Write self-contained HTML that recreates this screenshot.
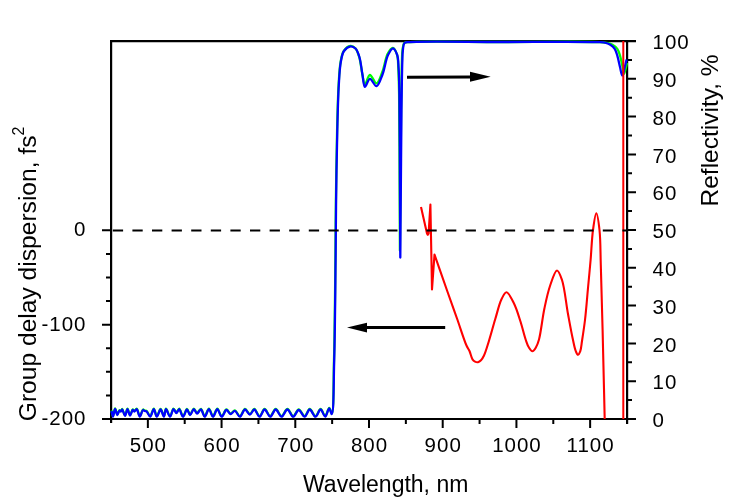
<!DOCTYPE html>
<html><head><meta charset="utf-8"><style>
html,body{margin:0;padding:0;background:#fff;width:730px;height:500px;overflow:hidden}
svg{display:block;will-change:transform}
text{font-family:"Liberation Sans",sans-serif;fill:#000}
</style></head><body>
<svg width="730" height="500" viewBox="0 0 730 500">
<rect width="730" height="500" fill="#fff"/>
<path d="M111.1,40 V423 M110,41.1 H636 M627.1,40 V424 M102,419 H636" stroke="#000" stroke-width="2.2" fill="none"/>
<path d="M147.86,419 V428 M221.57,419 V428 M295.29,419 V428 M369.00,419 V428 M442.71,419 V428 M516.43,419 V428 M590.14,419 V428 M184.71,419 V424 M258.43,419 V424 M332.14,419 V424 M405.86,419 V424 M479.57,419 V424 M553.29,419 V424 M102,230.30 H111 M102,324.65 H111 M102,419.00 H111 M106,253.89 H111 M106,277.48 H111 M106,301.06 H111 M106,348.24 H111 M106,371.83 H111 M106,395.41 H111 M627,419.00 H636 M627,400.10 H632 M627,381.20 H636 M627,362.30 H632 M627,343.40 H636 M627,324.50 H632 M627,305.60 H636 M627,286.70 H632 M627,267.80 H636 M627,248.90 H632 M627,230.00 H636 M627,211.10 H632 M627,192.20 H636 M627,173.30 H632 M627,154.40 H636 M627,135.50 H632 M627,116.60 H636 M627,97.70 H632 M627,78.80 H636 M627,59.90 H632 M627,41.00 H636" stroke="#000" stroke-width="2" fill="none"/>
<path d="M111.50,410.50 C112.00,412.33 112.45,416.00 113.00,416.00 C113.64,416.00 114.34,408.53 115.10,408.50 C115.79,408.47 116.51,414.46 117.30,414.50 C117.99,414.54 118.70,410.33 119.50,410.10 C119.98,409.96 120.57,411.11 121.00,411.00 C121.50,410.88 121.75,408.97 122.20,409.00 C122.98,409.05 124.12,415.32 125.00,415.30 C125.89,415.28 126.66,408.71 127.50,408.70 C128.33,408.69 129.11,414.96 130.00,415.00 C130.85,415.03 131.81,409.66 132.70,409.50 C133.24,409.40 133.71,411.00 134.30,411.00 C135.02,411.00 135.95,408.54 136.70,408.70 C137.87,408.95 138.72,416.17 139.80,416.20 C140.83,416.23 141.91,409.83 143.00,409.50 C143.56,409.33 144.11,410.30 144.70,410.50 C145.25,410.68 145.81,410.34 146.40,410.70 C147.57,411.40 149.02,416.29 150.20,416.20 C151.51,416.10 152.69,408.66 153.80,408.70 C154.89,408.74 155.67,416.14 156.80,416.20 C157.94,416.26 159.40,408.97 160.60,409.00 C161.77,409.03 163.00,416.07 163.90,416.00 C164.79,415.93 165.03,408.80 166.00,408.70 C167.03,408.59 168.74,416.23 170.00,416.20 C171.24,416.17 172.25,408.85 173.50,408.70 C174.45,408.59 175.54,412.52 176.50,412.50 C177.44,412.48 178.28,408.63 179.20,408.70 C180.43,408.79 181.69,416.18 183.00,416.20 C184.29,416.22 185.77,409.00 187.00,409.00 C188.08,409.00 188.90,414.46 190.00,414.50 C191.16,414.55 192.56,408.74 193.80,408.70 C194.89,408.67 195.83,412.92 197.00,413.00 C198.19,413.08 199.71,408.83 200.90,409.00 C202.33,409.21 203.39,416.18 204.70,416.20 C206.05,416.22 207.51,408.69 208.90,408.70 C210.28,408.71 211.60,416.19 213.00,416.20 C214.40,416.21 215.85,408.71 217.30,408.70 C218.75,408.69 220.16,416.14 221.70,416.20 C223.20,416.26 224.80,409.65 226.40,409.50 C227.74,409.37 229.06,413.40 230.50,413.50 C231.90,413.60 233.47,410.12 234.90,410.30 C236.59,410.51 238.18,416.25 239.80,416.20 C241.55,416.14 243.21,409.13 245.00,409.00 C246.59,408.88 248.33,414.04 249.90,414.00 C251.43,413.96 252.82,408.93 254.30,409.00 C256.01,409.08 257.78,416.21 259.50,416.20 C261.21,416.19 262.83,409.04 264.60,409.00 C266.40,408.96 268.35,416.21 270.20,416.20 C272.05,416.19 273.83,409.02 275.70,409.00 C277.59,408.98 279.55,416.19 281.50,416.20 C283.45,416.21 285.45,408.99 287.40,409.00 C289.35,409.01 291.29,416.19 293.20,416.20 C295.05,416.21 296.80,409.54 298.70,409.50 C300.63,409.46 302.86,416.31 304.70,416.20 C306.52,416.09 307.93,409.06 309.70,409.00 C311.52,408.94 313.66,416.26 315.50,416.20 C317.29,416.14 318.96,408.97 320.60,409.00 C322.19,409.03 323.79,416.09 325.20,416.00 C326.67,415.91 328.03,407.78 329.20,407.80 C330.18,407.82 331.09,413.83 331.80,413.70 C333.85,413.31 333.43,380.66 334.00,360.00 C334.77,331.81 335.08,289.10 335.40,260.00 C335.65,237.46 335.64,220.77 335.90,200.00 C336.19,177.56 336.58,150.76 337.10,130.00 C337.52,113.35 337.85,97.50 338.60,85.00 C339.14,76.05 339.44,68.22 340.60,62.00 C341.42,57.62 341.91,53.74 343.80,51.00 C345.41,48.67 348.30,46.24 350.40,46.00 C352.10,45.81 353.95,46.84 355.30,48.20 C357.11,50.02 358.13,53.51 359.20,57.00 C360.64,61.67 361.23,69.06 362.30,74.00 C363.14,77.88 363.63,84.14 364.90,84.30 C366.17,84.46 367.97,75.17 369.90,75.00 C371.83,74.83 374.51,83.50 376.50,83.30 C378.68,83.08 380.57,76.32 382.30,72.00 C384.44,66.67 385.46,57.74 387.80,53.50 C389.27,50.84 391.28,47.68 392.80,47.80 C394.35,47.92 396.06,51.75 397.00,54.50 C398.23,58.11 397.97,62.72 398.30,68.00 C398.77,75.45 398.90,83.49 399.10,95.00 C399.46,115.42 399.46,152.99 399.60,180.00 C399.72,204.60 399.80,227.00 399.90,250.50 C400.10,227.00 400.30,203.46 400.50,180.00 C400.70,156.63 400.90,128.46 401.10,110.00 C401.23,97.91 401.34,88.73 401.50,80.00 C401.62,73.24 401.71,67.39 401.90,62.00 C402.06,57.59 402.00,53.44 402.50,50.00 C402.89,47.33 402.81,44.28 404.20,43.00 C405.46,41.84 406.90,42.34 410.00,42.10 C422.13,41.16 469.21,42.00 500.00,42.00 C532.46,42.00 585.31,41.27 600.00,42.10 C604.17,42.34 605.75,42.43 608.00,43.00 C609.75,43.44 611.04,43.93 612.50,44.80 C614.15,45.79 616.07,47.10 617.30,48.80 C618.63,50.64 619.19,53.01 620.00,55.60 C621.02,58.88 621.91,63.65 622.60,67.00 C623.14,69.61 623.32,73.97 623.90,74.00 C624.49,74.04 625.56,69.02 626.10,67.00 C626.51,65.49 626.70,64.33 627.00,63.00" stroke="#00ff00" stroke-width="2.3" fill="none" stroke-linejoin="round"/>
<path d="M111.50,411.00 C112.00,412.83 112.45,416.50 113.00,416.50 C113.64,416.50 114.34,409.03 115.10,409.00 C115.79,408.97 116.51,414.96 117.30,415.00 C117.99,415.04 118.70,410.83 119.50,410.60 C119.98,410.46 120.57,411.61 121.00,411.50 C121.50,411.38 121.75,409.47 122.20,409.50 C122.98,409.55 124.12,415.82 125.00,415.80 C125.89,415.78 126.66,409.21 127.50,409.20 C128.33,409.19 129.11,415.46 130.00,415.50 C130.85,415.53 131.81,410.16 132.70,410.00 C133.24,409.90 133.71,411.50 134.30,411.50 C135.02,411.50 135.95,409.04 136.70,409.20 C137.87,409.45 138.72,416.67 139.80,416.70 C140.83,416.73 141.91,410.33 143.00,410.00 C143.56,409.83 144.11,410.80 144.70,411.00 C145.25,411.18 145.81,410.84 146.40,411.20 C147.57,411.90 149.02,416.79 150.20,416.70 C151.51,416.60 152.69,409.16 153.80,409.20 C154.89,409.24 155.67,416.64 156.80,416.70 C157.94,416.76 159.40,409.47 160.60,409.50 C161.77,409.53 163.00,416.57 163.90,416.50 C164.79,416.43 165.03,409.30 166.00,409.20 C167.03,409.09 168.74,416.73 170.00,416.70 C171.24,416.67 172.25,409.35 173.50,409.20 C174.45,409.09 175.54,413.02 176.50,413.00 C177.44,412.98 178.28,409.13 179.20,409.20 C180.43,409.29 181.69,416.68 183.00,416.70 C184.29,416.72 185.77,409.50 187.00,409.50 C188.08,409.50 188.90,414.96 190.00,415.00 C191.16,415.05 192.56,409.24 193.80,409.20 C194.89,409.17 195.83,413.42 197.00,413.50 C198.19,413.58 199.71,409.33 200.90,409.50 C202.33,409.71 203.39,416.68 204.70,416.70 C206.05,416.72 207.51,409.19 208.90,409.20 C210.28,409.21 211.60,416.69 213.00,416.70 C214.40,416.71 215.85,409.21 217.30,409.20 C218.75,409.19 220.16,416.64 221.70,416.70 C223.20,416.76 224.80,410.15 226.40,410.00 C227.74,409.87 229.06,413.90 230.50,414.00 C231.90,414.10 233.47,410.62 234.90,410.80 C236.59,411.01 238.18,416.75 239.80,416.70 C241.55,416.64 243.21,409.63 245.00,409.50 C246.59,409.38 248.33,414.54 249.90,414.50 C251.43,414.46 252.82,409.43 254.30,409.50 C256.01,409.58 257.78,416.71 259.50,416.70 C261.21,416.69 262.83,409.54 264.60,409.50 C266.40,409.46 268.35,416.71 270.20,416.70 C272.05,416.69 273.83,409.52 275.70,409.50 C277.59,409.48 279.55,416.69 281.50,416.70 C283.45,416.71 285.45,409.49 287.40,409.50 C289.35,409.51 291.29,416.69 293.20,416.70 C295.05,416.71 296.80,410.04 298.70,410.00 C300.63,409.96 302.86,416.81 304.70,416.70 C306.52,416.59 307.93,409.56 309.70,409.50 C311.52,409.44 313.66,416.76 315.50,416.70 C317.29,416.64 318.96,409.47 320.60,409.50 C322.19,409.53 323.79,416.59 325.20,416.50 C326.67,416.41 328.03,408.28 329.20,408.30 C330.18,408.32 331.08,414.33 331.80,414.20 C333.87,413.81 333.59,380.82 334.20,360.00 C335.02,331.74 335.28,289.10 335.60,260.00 C335.85,237.46 335.84,220.77 336.10,200.00 C336.39,177.56 336.78,150.76 337.30,130.00 C337.72,113.35 338.05,97.50 338.80,85.00 C339.34,76.05 339.64,68.22 340.80,62.00 C341.62,57.62 342.09,53.69 344.00,51.00 C345.60,48.74 348.51,46.51 350.60,46.30 C352.30,46.13 354.15,47.16 355.50,48.50 C357.29,50.27 358.33,53.56 359.40,57.00 C360.89,61.81 361.49,69.64 362.50,75.00 C363.32,79.35 363.53,86.55 364.90,86.80 C366.12,87.02 368.00,78.96 369.90,78.80 C371.85,78.63 374.52,86.45 376.50,86.20 C378.79,85.91 380.73,79.00 382.50,74.50 C384.69,68.92 385.70,59.66 388.00,55.00 C389.48,52.01 391.45,48.24 393.00,48.30 C394.51,48.36 396.25,52.27 397.20,55.00 C398.42,58.51 398.25,62.88 398.60,68.00 C399.10,75.37 399.20,83.49 399.40,95.00 C399.76,115.42 399.75,152.32 399.90,180.00 C400.05,206.43 400.17,231.67 400.30,257.50 C400.50,231.67 400.69,205.18 400.90,180.00 C401.10,156.07 401.30,128.46 401.50,110.00 C401.63,97.91 401.74,88.73 401.90,80.00 C402.02,73.24 402.11,67.39 402.30,62.00 C402.46,57.59 402.42,53.45 402.90,50.00 C403.27,47.34 403.14,44.27 404.50,43.00 C405.69,41.88 407.04,42.34 410.00,42.10 C421.88,41.13 469.21,41.99 500.00,42.00 C532.46,42.01 586.89,41.32 600.00,42.20 C603.22,42.42 604.20,42.51 606.00,43.00 C607.58,43.43 608.93,43.93 610.30,44.80 C611.85,45.79 613.56,47.13 614.70,48.80 C615.96,50.65 616.50,53.01 617.30,55.60 C618.31,58.88 619.13,63.48 620.00,67.00 C620.75,70.05 621.40,75.48 622.20,75.50 C623.00,75.52 624.05,69.76 624.80,67.00 C625.50,64.43 626.00,62.00 626.60,59.50" stroke="#0000ff" stroke-width="2.3" fill="none" stroke-linejoin="round"/>
<path d="M421,207 L427,233.5 Q427.8,236.2 428.6,233.5 L430.4,204.5 L432,289.5 L434.5,254.5 C438.80,266.83 443.40,280.14 447.40,291.50 C450.82,301.21 453.81,309.47 457.00,318.50 C460.21,327.57 464.14,340.33 466.60,345.80 C467.72,348.28 468.60,349.02 469.50,351.00 C470.60,353.41 471.29,357.48 472.50,359.30 C473.25,360.43 474.05,361.12 475.00,361.60 C475.90,362.06 477.03,362.38 478.00,362.20 C479.04,362.01 480.09,361.21 481.00,360.30 C482.15,359.15 483.00,357.61 484.00,355.50 C485.66,351.99 487.30,346.11 489.00,340.70 C491.03,334.24 493.07,326.33 495.20,319.30 C497.28,312.43 499.17,303.80 501.60,299.00 C503.12,296.00 504.72,292.26 506.50,292.30 C508.77,292.35 511.82,299.18 514.00,303.50 C516.58,308.61 518.44,315.26 520.40,321.30 C522.38,327.43 524.14,335.24 525.80,340.00 C526.86,343.03 527.55,345.32 528.80,347.30 C529.83,348.94 531.20,351.30 532.40,351.30 C533.60,351.30 534.98,348.97 536.00,347.30 C537.27,345.22 538.02,343.03 539.00,339.50 C540.89,332.66 542.40,317.97 544.40,308.50 C546.12,300.37 547.67,292.71 550.00,286.00 C551.99,280.25 554.80,270.57 557.00,270.50 C558.75,270.45 560.53,275.70 562.00,280.00 C564.63,287.70 566.05,303.43 568.00,314.00 C569.71,323.25 571.49,333.15 573.00,340.00 C574.00,344.52 574.69,348.56 575.80,351.20 C576.47,352.80 577.25,354.79 578.00,354.80 C578.75,354.81 579.69,352.79 580.30,351.20 C581.25,348.73 581.38,345.01 582.00,341.00 C582.89,335.25 584.08,327.75 585.00,320.00 C586.13,310.46 587.04,298.31 588.00,288.00 C588.90,278.36 589.78,269.50 590.60,260.00 C591.45,250.18 591.82,238.52 593.00,230.00 C593.89,223.59 595.22,213.30 596.30,213.30 C597.38,213.30 598.75,223.38 599.50,230.00 C600.58,239.50 600.36,251.54 600.80,265.00 C601.39,283.34 602.00,306.63 602.60,330.00 C603.30,357.34 604.00,389.33 604.70,419.00" stroke="#ff0000" stroke-width="2.1" fill="none" stroke-linejoin="round"/>
<path d="M623.3,41 V419" stroke="#ff0000" stroke-width="2" fill="none"/>
<path d="M111,230.5 H627" stroke="#000" stroke-width="2" stroke-dasharray="10.3 9.3" stroke-dashoffset="-1.8" fill="none"/>
<path d="M407,77.3 L471,77" stroke="#000" stroke-width="3" fill="none"/>
<path d="M470,71.8 L490.7,76.8 L470,81.8 Z" fill="#000"/>
<path d="M366,327.6 L445.2,327.6" stroke="#000" stroke-width="3" fill="none"/>
<path d="M347,327.6 L367,322.7 L367,332.6 Z" fill="#000"/>
<text x="148.36" y="452" text-anchor="middle" font-size="20.5" letter-spacing="1">500</text><text x="222.07" y="452" text-anchor="middle" font-size="20.5" letter-spacing="1">600</text><text x="295.79" y="452" text-anchor="middle" font-size="20.5" letter-spacing="1">700</text><text x="369.50" y="452" text-anchor="middle" font-size="20.5" letter-spacing="1">800</text><text x="443.21" y="452" text-anchor="middle" font-size="20.5" letter-spacing="1">900</text><text x="516.93" y="452" text-anchor="middle" font-size="20.5" letter-spacing="1">1000</text><text x="590.64" y="452" text-anchor="middle" font-size="20.5" letter-spacing="1">1100</text><text x="86.5" y="236.0" text-anchor="end" font-size="20.5" letter-spacing="1">0</text><text x="86.5" y="330.5" text-anchor="end" font-size="20.5" letter-spacing="1">-100</text><text x="86.5" y="425.0" text-anchor="end" font-size="20.5" letter-spacing="1">-200</text><text x="652.5" y="427.2" font-size="20.5" letter-spacing="1">0</text><text x="652.5" y="389.4" font-size="20.5" letter-spacing="1">10</text><text x="652.5" y="351.6" font-size="20.5" letter-spacing="1">20</text><text x="652.5" y="313.8" font-size="20.5" letter-spacing="1">30</text><text x="652.5" y="276.0" font-size="20.5" letter-spacing="1">40</text><text x="652.5" y="238.2" font-size="20.5" letter-spacing="1">50</text><text x="652.5" y="200.4" font-size="20.5" letter-spacing="1">60</text><text x="652.5" y="162.6" font-size="20.5" letter-spacing="1">70</text><text x="652.5" y="124.8" font-size="20.5" letter-spacing="1">80</text><text x="652.5" y="87.0" font-size="20.5" letter-spacing="1">90</text><text x="652.5" y="49.2" font-size="20.5" letter-spacing="1">100</text>
<text x="303" y="491.5" font-size="23">Wavelength, nm</text>
<text transform="translate(35.6,421.2) rotate(-90)" font-size="24.6">Group delay dispersion, fs<tspan dy="-11.5" font-size="16">2</tspan></text>
<text transform="translate(718,206.5) rotate(-90)" font-size="24.5">Reflectivity, %</text>
</svg>
</body></html>
